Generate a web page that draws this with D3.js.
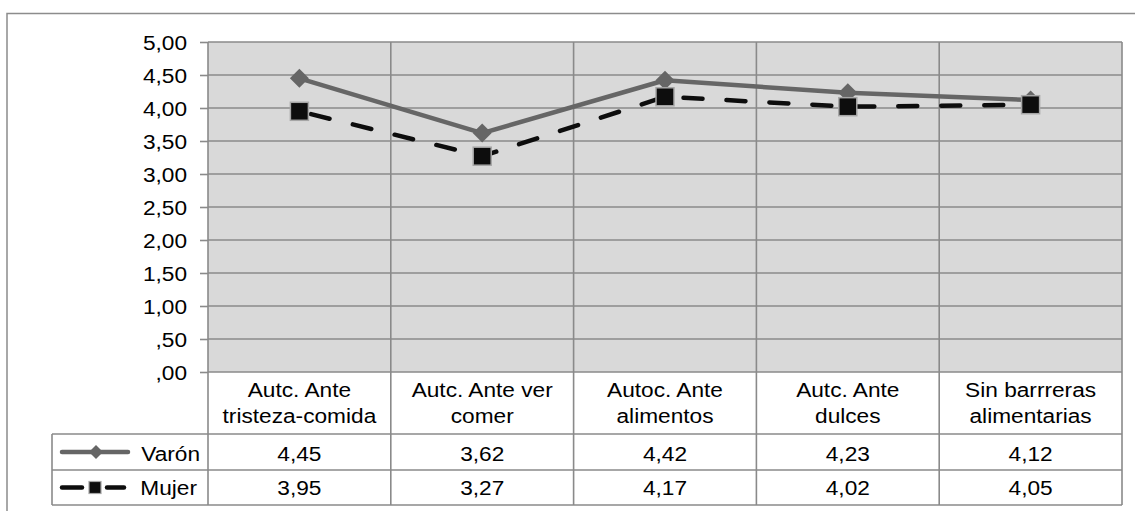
<!DOCTYPE html>
<html>
<head>
<meta charset="utf-8">
<script src="https://cdn.jsdelivr.net/npm/d3@7"></script>
<style>
  html, body { margin: 0; padding: 0; background: #fff; }
  svg { display: block; }
  text { font-family: "Liberation Sans", Arial, sans-serif; fill: #000; }
</style>
</head>
<body>
<svg id="chart" width="1135" height="511"></svg>
<script>
// Categories (two-line labels) and the two series
const categories = [
  ["Autc. Ante", "tristeza-comida"],
  ["Autc. Ante ver", "comer"],
  ["Autoc. Ante", "alimentos"],
  ["Autc. Ante", "dulces"],
  ["Sin barrreras", "alimentarias"]
];
const seriesNames = ["Varón", "Mujer"];
const varon = [4.45, 3.62, 4.42, 4.23, 4.12];
const mujer = [3.95, 3.27, 4.17, 4.02, 4.05];
const yTicks = [0, 0.5, 1, 1.5, 2, 2.5, 3, 3.5, 4, 4.5, 5];
const yTickLabels = [",00", ",50", "1,00", "1,50", "2,00", "2,50", "3,00", "3,50", "4,00", "4,50", "5,00"];

const fmt = v => {
  const s = v.toFixed(2).replace(".", ",");
  return s.startsWith("0,") ? s.slice(1) : s;
};

const svg = d3.select("#chart");
const FONT = 21;
const SX = 1.08;          // slightly wide lettering
const gridColor = "#8a8a8a";

// Layout
const plot = { left: 208, right: 1122, top: 42, bottom: 372 };
const tableLeft = 52;
const rowLines = [434, 470, 505];

const catIdx = categories.map((d, i) => i);
const x = d3.scaleBand().domain(catIdx).range([plot.left, plot.right]).padding(0);
const y = d3.scaleLinear().domain([0, 5]).range([plot.bottom, plot.top]);
const cx = i => x(i) + x.bandwidth() / 2;

// text helper: places a label at (px, py) with the horizontal stretch
function label(g, px, py, str, anchor) {
  return g.append("text")
    .attr("transform", `translate(${px},${py}) scale(${SX},1)`)
    .attr("text-anchor", anchor || "middle")
    .style("font-size", FONT + "px")
    .text(str);
}

// Outer frame
svg.append("path")
  .attr("d", `M7,511 L7,13.5 L1135,13.5`)
  .attr("fill", "none").attr("stroke", "#8c8c8c").attr("stroke-width", 1.5);

// Plot background
svg.append("rect")
  .attr("x", plot.left).attr("y", plot.top)
  .attr("width", plot.right - plot.left).attr("height", plot.bottom - plot.top)
  .attr("fill", "#d9d9d9");

// Left axis ticks
const yAxis = d3.axisLeft(y)
  .tickValues(yTicks)
  .tickFormat("")
  .tickSizeInner(8).tickSizeOuter(0);
const gy = svg.append("g").attr("transform", `translate(${plot.left},0)`).call(yAxis);
gy.select(".domain").remove();
gy.selectAll(".tick line").attr("stroke", gridColor).attr("stroke-width", 1.6);

// Y tick labels
const gyl = svg.append("g");
yTicks.forEach((t, i) => label(gyl, 187, y(t) + 7.5, yTickLabels[i], "end"));

// Horizontal gridlines
svg.append("g").selectAll("line").data(yTicks).join("line")
  .attr("x1", plot.left).attr("x2", plot.right)
  .attr("y1", d => y(d)).attr("y2", d => y(d))
  .attr("stroke", gridColor).attr("stroke-width", 1.6);

// Vertical lines: category boundaries through plot, labels and data table
const bounds = catIdx.map(i => x(i)).concat([plot.right]);
svg.append("g").selectAll("line").data(bounds).join("line")
  .attr("x1", d => d).attr("x2", d => d)
  .attr("y1", plot.top).attr("y2", rowLines[2])
  .attr("stroke", gridColor).attr("stroke-width", 1.6);

// Table: horizontal rules and left edge
svg.append("g").selectAll("line").data(rowLines).join("line")
  .attr("x1", tableLeft).attr("x2", plot.right)
  .attr("y1", d => d).attr("y2", d => d)
  .attr("stroke", gridColor).attr("stroke-width", 1.6);
svg.append("line")
  .attr("x1", tableLeft).attr("x2", tableLeft)
  .attr("y1", rowLines[0]).attr("y2", rowLines[2])
  .attr("stroke", gridColor).attr("stroke-width", 1.6);

// Category labels
const gc = svg.append("g");
categories.forEach((c, i) => {
  label(gc, cx(i), 397, c[0]);
  label(gc, cx(i), 423, c[1]);
});

// Series lines
const line = d3.line().x((d, i) => cx(i)).y(d => y(d));
svg.append("path").datum(varon).attr("d", line)
  .attr("fill", "none").attr("stroke", "#666666").attr("stroke-width", 4.5)
  .attr("stroke-linejoin", "round");
svg.append("path").datum(mujer).attr("d", line)
  .attr("fill", "none").attr("stroke", "#0d0d0d").attr("stroke-width", 4.5)
  .attr("stroke-dasharray", "19,24").attr("stroke-linecap", "round")
  .attr("stroke-dashoffset", -12);

// Markers
const diamond = (px, py, r) => `M${px},${py - r} L${px + r},${py} L${px},${py + r} L${px - r},${py} Z`;
svg.append("g").selectAll("path").data(varon).join("path")
  .attr("d", (d, i) => diamond(cx(i), y(d), 9.5))
  .attr("fill", "#666666");
svg.append("g").selectAll("rect").data(mujer).join("rect")
  .attr("x", (d, i) => cx(i) - 9).attr("y", d => y(d) - 9)
  .attr("width", 18).attr("height", 18)
  .attr("fill", "#0d0d0d").attr("stroke", "#a6a6a6").attr("stroke-width", 1.5);

// Data table rows
const rows = [varon, mujer];
const rowBase = [461, 495];
const gt = svg.append("g");
rows.forEach((vals, r) => {
  vals.forEach((v, i) => label(gt, cx(i), rowBase[r], fmt(v)));
});

// Legend keys in the table
const rowMid = [(rowLines[0] + rowLines[1]) / 2, (rowLines[1] + rowLines[2]) / 2];
label(gt, 200, rowBase[0], seriesNames[0], "end");
label(gt, 197, rowBase[1], seriesNames[1], "end");

svg.append("line").attr("x1", 62).attr("x2", 128).attr("y1", rowMid[0]).attr("y2", rowMid[0])
  .attr("stroke", "#666666").attr("stroke-width", 4.5).attr("stroke-linecap", "round");
svg.append("path").attr("d", diamond(96, rowMid[0], 7)).attr("fill", "#666666");

svg.append("line").attr("x1", 62).attr("x2", 82).attr("y1", rowMid[1]).attr("y2", rowMid[1])
  .attr("stroke", "#0d0d0d").attr("stroke-width", 4.5).attr("stroke-linecap", "round");
svg.append("line").attr("x1", 107).attr("x2", 124).attr("y1", rowMid[1]).attr("y2", rowMid[1])
  .attr("stroke", "#0d0d0d").attr("stroke-width", 4.5).attr("stroke-linecap", "round");
svg.append("rect").attr("x", 89).attr("y", rowMid[1] - 6).attr("width", 12).attr("height", 12)
  .attr("fill", "#0d0d0d").attr("stroke", "#a6a6a6").attr("stroke-width", 1.2);
</script>
</body>
</html>
